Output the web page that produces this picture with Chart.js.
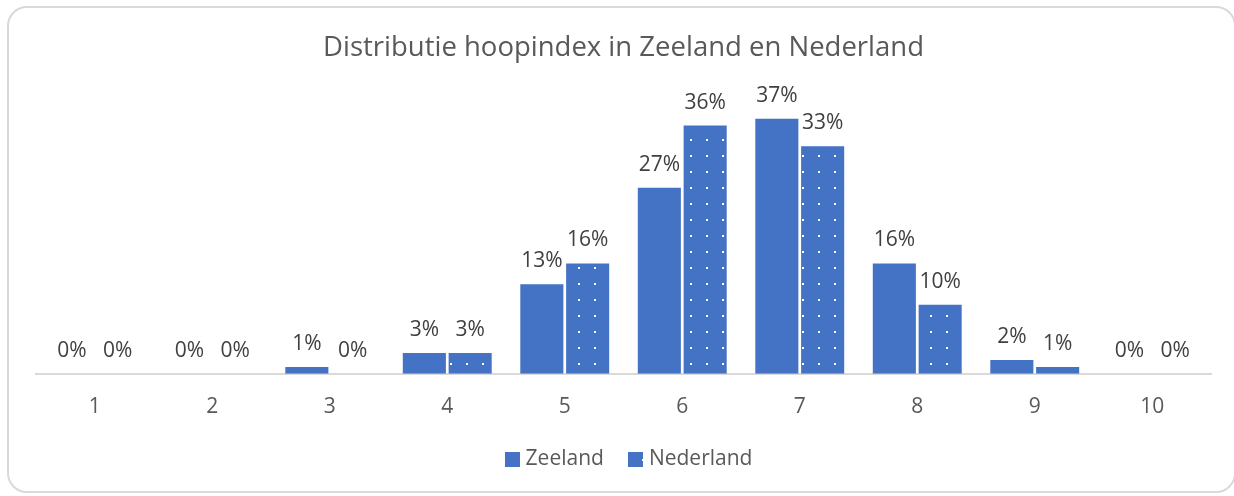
<!DOCTYPE html>
<html>
<head>
<meta charset="utf-8">
<script src="https://cdn.jsdelivr.net/npm/chart.js@4/dist/chart.umd.min.js"></script>
<style>
  html, body { margin: 0; padding: 0; background: #ffffff; overflow: hidden; }
  #wrap { position: relative; width: 1234px; height: 496px; }
  #frame { position: absolute; left: 7px; top: 6px; width: 1229px; height: 487px; box-sizing: border-box;
           border: 2px solid #d9d9d9; border-radius: 20px; pointer-events: none; }
  canvas { position: absolute; left: 0; top: 0; }
</style>
</head>
<body>
<div id="wrap">
  <div id="frame"></div>
  <canvas id="c" width="1234" height="496"></canvas>
</div>
<script>
const chartTitle = 'Distributie hoopindex in Zeeland en Nederland';
const categories = ['1', '2', '3', '4', '5', '6', '7', '8', '9', '10'];
const seriesNames = ['Zeeland', 'Nederland'];
const zeeland = [0, 0, 1, 3, 13, 27, 37, 16, 2, 0];
const nederland = [0, 0, 0, 3, 16, 36, 33, 10, 1, 0];

const FONT = '"Open Sans", "Noto Sans", sans-serif';
const BLUE = '#4472C4';

function dotPattern() {
  const t = document.createElement('canvas');
  t.width = 16; t.height = 16;
  const g = t.getContext('2d');
  g.fillStyle = BLUE; g.fillRect(0, 0, 16, 16);
  g.fillStyle = '#ffffff'; g.fillRect(2, 11, 2, 2);
  return g.createPattern(t, 'repeat');
}

const dataLabels = {
  id: 'dataLabels',
  afterDatasetsDraw(chart) {
    const ctx = chart.ctx;
    ctx.save();
    ctx.font = '21px ' + FONT;
    ctx.fillStyle = '#404040';
    ctx.textAlign = 'center';
    ctx.textBaseline = 'middle';
    chart.data.datasets.forEach((ds, i) => {
      const meta = chart.getDatasetMeta(i);
      meta.data.forEach((el, j) => {
        ctx.fillText(ds.data[j] + '%', el.x, el.y - 23);
      });
    });
    ctx.restore();
  }
};

const customLegend = {
  id: 'customLegend',
  afterDraw(chart) {
    const ctx = chart.ctx;
    const box = 15, gapText = 6, gapItem = 24;
    const cy = 459;
    ctx.save();
    ctx.font = '21px ' + FONT;
    ctx.textBaseline = 'middle';
    const items = chart.data.datasets.map(ds => ({ text: ds.label, fill: ds.backgroundColor, w: ctx.measureText(ds.label).width }));
    let total = 0;
    items.forEach((it, i) => { total += box + gapText + it.w + (i ? gapItem : 0); });
    let x = (chart.chartArea.left + chart.chartArea.right) / 2 + 5 - total / 2;
    items.forEach((it, i) => {
      if (i) x += gapItem;
      ctx.fillStyle = it.fill;
      ctx.fillRect(Math.round(x), cy - 7, box, box);
      x += box + gapText;
      ctx.fillStyle = '#595959';
      ctx.textAlign = 'left';
      ctx.fillText(it.text, x, cy);
      x += it.w;
    });
    ctx.restore();
  }
};

new Chart(document.getElementById('c'), {
  type: 'bar',
  data: {
    labels: categories,
    datasets: [
      { label: seriesNames[0], data: zeeland, backgroundColor: BLUE, borderWidth: 0,
        categoryPercentage: 0.78, barPercentage: 0.94 },
      { label: seriesNames[1], data: nederland, backgroundColor: dotPattern(), borderWidth: 0,
        categoryPercentage: 0.78, barPercentage: 0.94 }
    ]
  },
  options: {
    responsive: false,
    animation: false,
    devicePixelRatio: 1,
    layout: { padding: { left: 36, right: 23, top: 32, bottom: 55 } },
    plugins: {
      title: {
        display: true, text: chartTitle, color: '#595959',
        font: { family: FONT, size: 27.5, weight: 'normal' },
        padding: { top: 0, bottom: 33 }
      },
      legend: { display: false },
      tooltip: { enabled: false }
    },
    scales: {
      x: {
        grid: { display: false, drawTicks: false },
        border: { display: true, color: '#d9d9d9', width: 2 },
        ticks: { color: '#595959', font: { family: FONT, size: 21 }, padding: 21 }
      },
      y: { display: false, min: 0, max: 40 }
    }
  },
  plugins: [dataLabels, customLegend]
});
</script>
</body>
</html>
